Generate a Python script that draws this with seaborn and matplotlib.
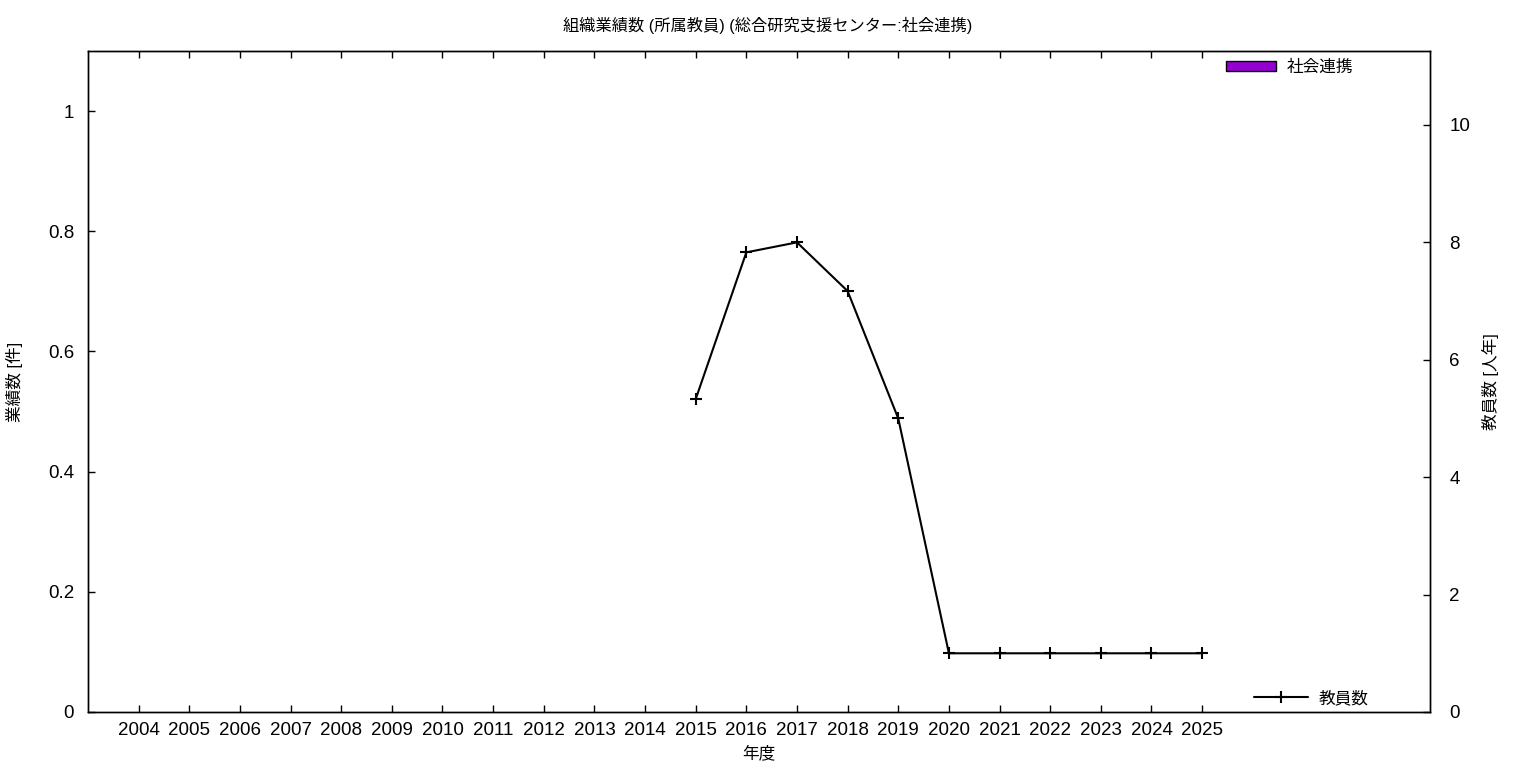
import matplotlib
matplotlib.use("Agg")
import matplotlib.pyplot as plt
import seaborn as sns
import numpy as np
import pandas as pd
from matplotlib.patches import Patch
from matplotlib.lines import Line2D

# data
years = [str(y) for y in range(2004, 2026)]
shakai_renkei = [0] * len(years)  # 社会連携 (all zero)
staff = [np.nan] * 11 + [5.33, 7.83, 8.0, 7.17, 5.0, 1.0, 1.0, 1.0, 1.0, 1.0, 1.0]  # 教員数

sns.set_style("white")
plt.rcParams['font.family'] = ['Liberation Sans', 'Noto Sans CJK JP', 'DejaVu Sans']
plt.rcParams.update({'text.color': 'black', 'axes.labelcolor': 'black',
                     'xtick.color': 'black', 'ytick.color': 'black'})

fig = plt.figure(figsize=(15.36, 7.68), dpi=100)
ax = fig.add_axes([88 / 1536, 56 / 768, 1342 / 1536, 661 / 768])

df = pd.DataFrame({'year': years, 'count': shakai_renkei,
                   'pos': range(len(years)), 'staff': staff})

sns.barplot(data=df, x='year', y='count', color='#9400D3', linewidth=0, ax=ax)
ax.set_xlim(-1, 25.5)
ax.set_ylim(0, 1.1)
ax.set_yticks([0, 0.2, 0.4, 0.6, 0.8, 1.0])
ax.set_yticklabels(['0', '0.2', '0.4', '0.6', '0.8', '1'])
ax.set_xlabel('年度', fontsize=12, labelpad=5)
ax.set_ylabel('業績数 [件]', fontsize=12)
ax.yaxis.set_label_coords(-0.0484, 0.5)
ax.tick_params(axis='x', direction='in', top=True, bottom=True, length=5,
               width=1, labelsize=13.5, pad=7, color='black')
ax.tick_params(axis='y', direction='in', left=True, right=False, length=5,
               width=1, labelsize=13.5, pad=10, color='black')

leg1 = ax.legend(handles=[Patch(facecolor='#9400D3', edgecolor='black', linewidth=1, label='社会連携')],
                 loc='center right', bbox_to_anchor=(0.9425, 0.9758), frameon=False,
                 borderpad=0, borderaxespad=0, handlelength=3.0, handleheight=0.55,
                 handletextpad=0.65, fontsize=12)

ax2 = ax.twinx()
sns.lineplot(data=df, x='pos', y='staff', color='black', marker='+',
             markersize=9, markeredgewidth=1.5, markeredgecolor='black',
             linewidth=1.5, ax=ax2)
ax2.set_ylim(0, 11.26)
ax2.set_yticks([0, 2, 4, 6, 8, 10])
ax2.set_xlim(-1, 25.5)
ax2.set_ylabel('教員数 [人年]', fontsize=12)
ax2.yaxis.set_label_coords(1.0387, 0.5)
ax2.set_xlabel('')
ax2.tick_params(axis='y', direction='in', right=True, left=False, length=5,
                width=1, labelsize=13.5, pad=14, color='black')

for a in (ax, ax2):
    for s in a.spines.values():
        s.set_color('black')
        s.set_linewidth(1)

fig.suptitle('組織業績数 (所属教員) (総合研究支援センター:社会連携)', fontsize=11.7, y=0.978)

ax2.legend(handles=[Line2D([0], [0], color='black', marker='+', markersize=9,
                           markeredgewidth=1.5, linewidth=1.5, label='教員数')],
           loc='center right', bbox_to_anchor=(0.954, 0.0212), frameon=False,
           borderpad=0, borderaxespad=0, handlelength=3.2, handletextpad=0.65, fontsize=12)

fig.savefig('out.png', dpi=100)
